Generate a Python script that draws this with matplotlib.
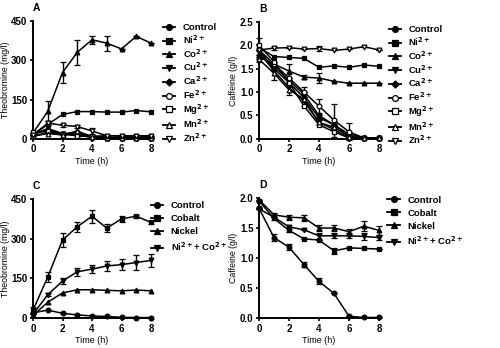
import numpy as np
import matplotlib
matplotlib.use("Agg")
import matplotlib.pyplot as plt
from matplotlib.lines import Line2D

plt.rcParams['font.family'] = ['Liberation Sans', 'DejaVu Sans']
plt.rcParams['font.weight'] = 'bold'
plt.rcParams['font.size'] = 6.5
plt.rcParams['mathtext.default'] = 'bf'

time_h = [0, 1, 2, 3, 4, 5, 6, 7, 8]

# Panel A: theobromine (mg/l) with single metal ions
metal_labels = ["Control", "Ni$^{2+}$", "Co$^{2+}$", "Cu$^{2+}$", "Ca$^{2+}$",
                "Fe$^{2+}$", "Mg$^{2+}$", "Mn$^{2+}$", "Zn$^{2+}$"]
a_control = [20, 30, 18, 12, 8, 5, 2, 2, 2]
a_ni = [15, 55, 93, 104, 104, 102, 102, 108, 103]
a_co = [22, 105, 253, 330, 378, 365, 343, 391, 365]
a_cu = [15, 40, 20, 15, 5, 2, 2, 2, 2]
a_ca = [10, 25, 15, 20, 5, 3, 2, 2, 2]
a_fe = [20, 35, 18, 25, 10, 5, 3, 3, 3]
a_mg = [25, 30, 20, 12, 10, 12, 12, 12, 12]
a_mn = [10, 20, 15, 30, 8, 5, 5, 5, 5]
a_zn = [15, 60, 52, 47, 30, 12, 10, 10, 10]
a_co_err = [5, 38, 40, 48, 16, 28, 0, 0, 0]
a_zn_err = [0, 8, 6, 6, 10, 4, 0, 0, 0]

# Panel B: caffeine (g/l) with single metal ions
b_control = [1.90, 1.50, 1.20, 0.88, 0.45, 0.30, 0.05, 0.02, 0.02]
b_ni = [1.95, 1.76, 1.74, 1.72, 1.53, 1.56, 1.53, 1.58, 1.55]
b_co = [1.75, 1.60, 1.45, 1.32, 1.30, 1.23, 1.19, 1.19, 1.19]
b_cu = [1.85, 1.45, 1.10, 0.80, 0.35, 0.20, 0.02, 0.02, 0.02]
b_ca = [1.80, 1.55, 1.25, 0.95, 0.50, 0.30, 0.10, 0.02, 0.02]
b_fe = [1.90, 1.60, 1.30, 1.00, 0.70, 0.40, 0.15, 0.02, 0.02]
b_mg = [2.00, 1.65, 1.20, 0.70, 0.30, 0.15, 0.02, 0.02, 0.02]
b_mn = [1.70, 1.40, 1.05, 0.85, 0.35, 0.25, 0.05, 0.02, 0.02]
b_zn = [1.90, 1.94, 1.95, 1.92, 1.93, 1.89, 1.92, 1.97, 1.90]
b_co_err = [0, 0.05, 0.15, 0.05, 0.10, 0, 0, 0, 0]
b_fe_err = [0, 0.05, 0.08, 0.10, 0.15, 0.35, 0.18, 0, 0]
b_mn_err = [0, 0.15, 0.12, 0.15, 0.05, 0.05, 0.05, 0, 0]
b_zn_err = [0.25, 0.03, 0, 0, 0.05, 0, 0, 0, 0]

# Panel C/D: combined ions
combo_labels = ["Control", "Cobalt", "Nickel", "Ni$^{2+}$+ Co$^{2+}$"]
c_control = [20, 30, 18, 12, 8, 6, 3, 2, 2]
c_cobalt = [30, 155, 295, 345, 385, 340, 375, 385, 362]
c_nickel = [10, 60, 95, 107, 107, 105, 103, 106, 103]
c_nico = [15, 88, 140, 175, 185, 197, 202, 210, 218]
c_cobalt_err = [10, 20, 25, 18, 25, 15, 12, 5, 5]
c_nico_err = [0, 5, 10, 15, 15, 18, 20, 28, 25]

d_control = [1.83, 1.34, 1.18, 0.89, 0.61, 0.41, 0.03, 0.01, 0.01]
d_cobalt = [1.95, 1.66, 1.46, 1.32, 1.30, 1.12, 1.17, 1.16, 1.15]
d_nickel = [1.97, 1.72, 1.68, 1.67, 1.50, 1.50, 1.44, 1.53, 1.46]
d_nico = [1.82, 1.68, 1.52, 1.47, 1.37, 1.37, 1.37, 1.36, 1.34]
d_control_err = [0, 0.06, 0.05, 0.04, 0.05, 0, 0, 0, 0]
d_cobalt_err = [0, 0.03, 0.03, 0, 0, 0.05, 0, 0, 0]
d_nickel_err = [0, 0.03, 0.04, 0.05, 0.05, 0.05, 0.05, 0.08, 0.08]
d_nico_err = [0, 0, 0, 0, 0.05, 0.04, 0.04, 0.06, 0.04]

markers9 = ["o", "s", "^", "v", "D", "o", "s", "^", "v"]
filled9 = [True] * 5 + [False] * 4
markers4 = ["o", "s", "^", "v"]


def draw(ax, series, errs, labels, markers, filled):
    handles = []
    for y, e, lab, m, f in zip(series, errs, labels, markers, filled):
        ms = 3.4 if m != "D" else 2.8
        kw = dict(color="black", marker=m, ms=ms, mfc="black" if f else "white",
                  mec="black", mew=0.9)
        ax.errorbar(time_h, y, yerr=e, lw=1.1, capsize=2.2, elinewidth=1.0,
                    capthick=1.0, clip_on=False, zorder=3, **kw)
        handles.append(Line2D([], [], lw=1.3, label=lab, **dict(kw, ms=ms + 0.8)))
    return handles


def style(ax, ylim, yticks, ylabel, letter):
    ax.set_xlim(0, 8)
    ax.set_ylim(*ylim)
    ax.set_xticks([0, 2, 4, 6, 8])
    ax.set_yticks(yticks)
    for s in ["top", "right"]:
        ax.spines[s].set_visible(False)
    for s in ["left", "bottom"]:
        ax.spines[s].set_linewidth(1.4)
    ax.tick_params(width=1.2, length=2.5, pad=1.5, labelsize=7)
    ax.set_xlabel("Time (h)", fontsize=6.5, labelpad=2)
    ax.set_ylabel(ylabel, fontsize=6.3, labelpad=1)
    ax.text(0.0, 1.11, letter, transform=ax.transAxes, fontsize=7.5,
            fontweight="bold", ha="left", va="center")


fig = plt.figure(figsize=(5.0, 3.48), dpi=100)
axA = fig.add_axes([0.066, 0.601, 0.236, 0.339])
axB = fig.add_axes([0.518, 0.601, 0.24, 0.336])
axC = fig.add_axes([0.066, 0.086, 0.236, 0.342])
axD = fig.add_axes([0.518, 0.086, 0.24, 0.345])

hA = draw(axA, [a_control, a_ni, a_co, a_cu, a_ca, a_fe, a_mg, a_mn, a_zn],
          [None, None, a_co_err, None, None, None, None, None, a_zn_err],
          metal_labels, markers9, filled9)
style(axA, (0, 450), [0, 150, 300, 450], "Theobromine (mg/l)", "A")

hB = draw(axB, [b_control, b_ni, b_co, b_cu, b_ca, b_fe, b_mg, b_mn, b_zn],
          [None, None, b_co_err, None, None, b_fe_err, None, b_mn_err, b_zn_err],
          metal_labels, markers9, filled9)
style(axB, (0, 2.5), [0.0, 0.5, 1.0, 1.5, 2.0, 2.5], "Caffeine (g/l)", "B")
axB.set_yticklabels(["0.0", "0.5", "1.0", "1.5", "2.0", "2.5"])

hC = draw(axC, [c_control, c_cobalt, c_nickel, c_nico],
          [None, c_cobalt_err, None, c_nico_err], combo_labels, markers4, [True] * 4)
style(axC, (0, 450), [0, 150, 300, 450], "Theobromine (mg/l)", "C")

hD = draw(axD, [d_control, d_cobalt, d_nickel, d_nico],
          [d_control_err, d_cobalt_err, d_nickel_err, d_nico_err],
          combo_labels, markers4, [True] * 4)
style(axD, (0, 2.0), [0.0, 0.5, 1.0, 1.5, 2.0], "Caffeine (g/l)", "D")
axD.set_yticklabels(["0.0", "0.5", "1.0", "1.5", "2.0"])

for ax, h, x0, y0, sp in [(axA, hA, 1.1, 0.98, 0.12), (axB, hB, 1.08, 0.97, 0.12),
                          (axC, hC, 1.0, 0.98, 0.42), (axD, hD, 1.07, 1.02, 0.42)]:
    ax.legend(handles=h, loc="upper left", bbox_to_anchor=(x0, y0), frameon=False,
              fontsize=6.8, handlelength=1.3, handletextpad=0.8,
              labelspacing=sp, borderpad=0, borderaxespad=0)

fig.savefig("out.png", dpi=100)
